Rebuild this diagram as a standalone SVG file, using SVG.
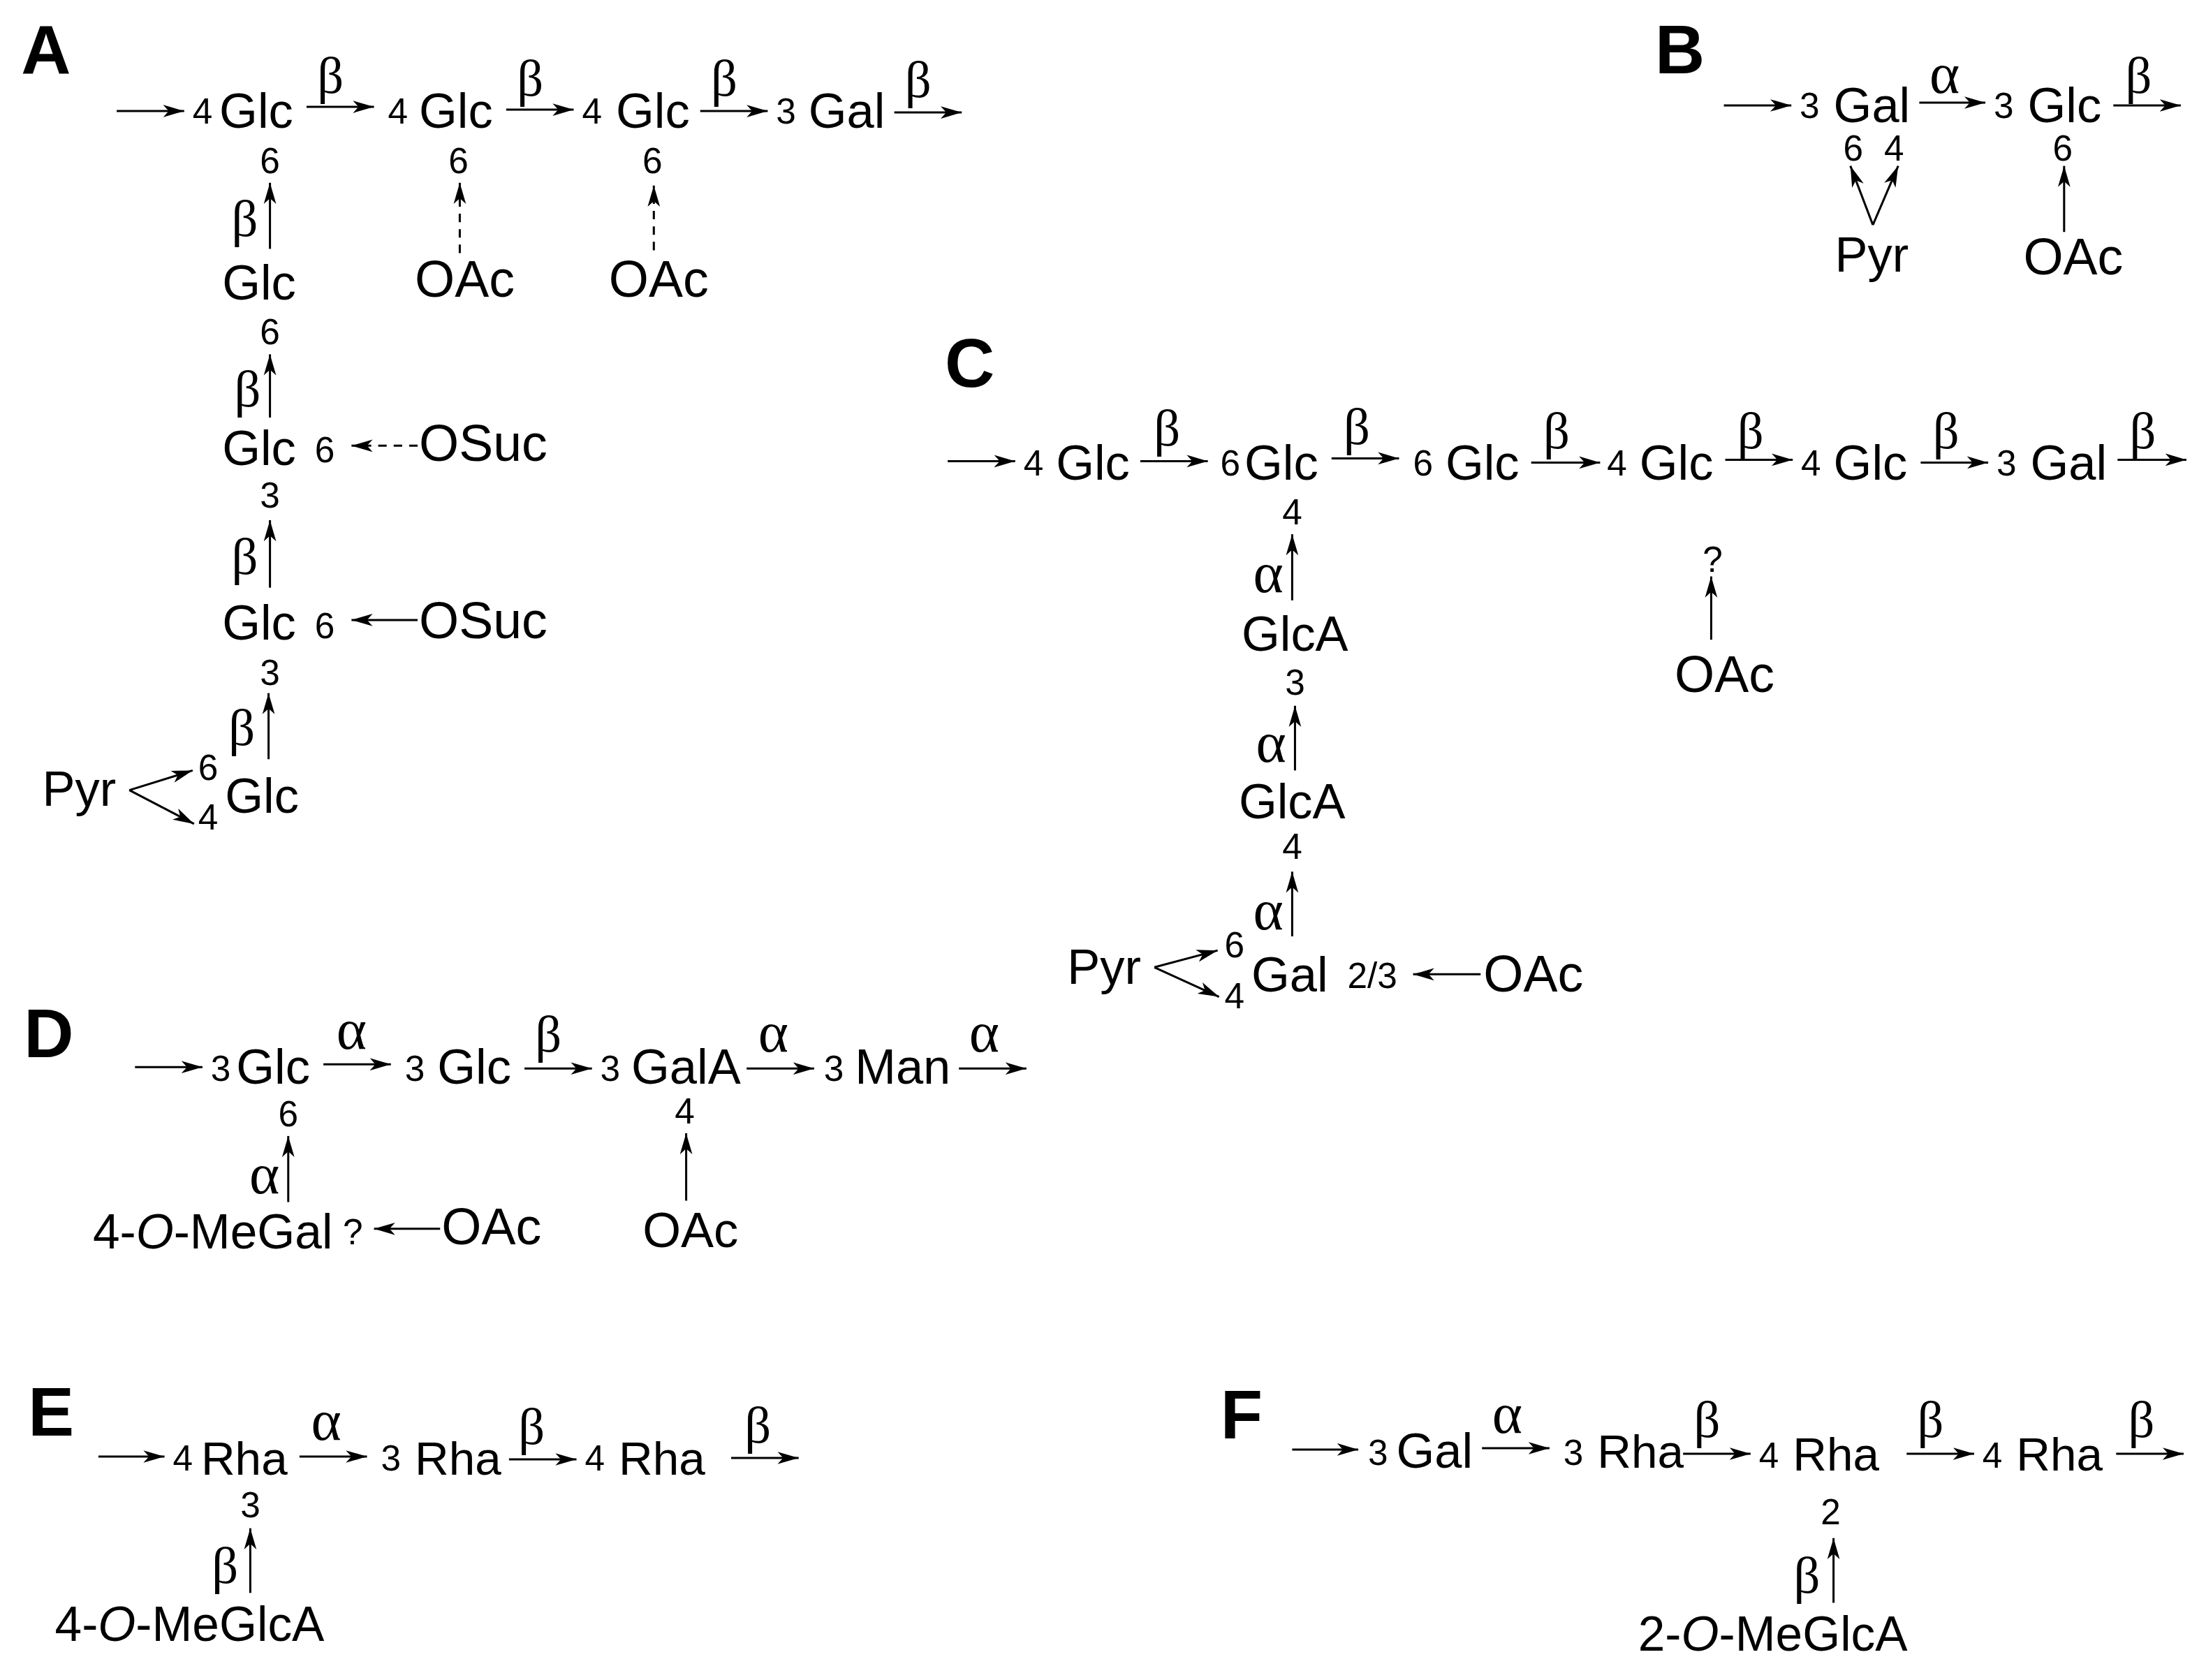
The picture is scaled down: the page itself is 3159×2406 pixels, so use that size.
<svg xmlns="http://www.w3.org/2000/svg" width="3159" height="2406" viewBox="0 0 3159 2406">
<style>
text{font-family:"Liberation Sans",Arial,sans-serif;fill:#000}
.t{font-size:35px}.o{font-size:36.5px}.n{font-size:25.5px;text-anchor:middle}
.m{font-size:34.5px}.r{font-size:33.5px}
.g{font-family:"Liberation Serif","Times New Roman",serif;font-size:37px;text-anchor:middle}
.a{font-size:41px}
.h{font-size:49px;font-weight:bold}
line{stroke:#000;stroke-width:1.5;marker-end:url(#a);fill:none}
.d{stroke-dasharray:6 5}
</style>
<defs><marker id="a" markerUnits="userSpaceOnUse" markerWidth="16" markerHeight="10" refX="15" refY="5" orient="auto"><path d="M0 .6L15 5L0 9.4L4 5z"/></marker></defs>
<rect width="3159" height="2406" fill="#fff"/>
<g transform="scale(2.0135)">
<g id="panel-letters">
<text class="h" x="15" y="52">A</text><text class="h" x="1177" y="52">B</text><text class="h" x="672" y="275">C</text><text class="h" x="17" y="752">D</text><text class="h" x="20" y="1021">E</text><text class="h" x="868" y="1023">F</text>
</g>
<g id="connectors">
<line x1="83" y1="79" x2="131" y2="79"/><line x1="218" y1="76" x2="266" y2="76"/><line x1="360" y1="78" x2="408" y2="78"/><line x1="498" y1="79" x2="546" y2="79"/><line x1="636" y1="80" x2="684" y2="80"/>
<line x1="192" y1="177" x2="192" y2="130"/><line class="d" x1="327" y1="180" x2="327" y2="130"/><line class="d" x1="465" y1="178" x2="465" y2="132"/>
<line x1="192" y1="297" x2="192" y2="252"/><line class="d" x1="297" y1="317" x2="250" y2="317"/><line x1="192" y1="418" x2="192" y2="370"/><line x1="297" y1="441" x2="250" y2="441"/><line x1="191" y1="540" x2="191" y2="493"/>
<line x1="92" y1="562" x2="137" y2="548"/><line x1="92" y1="562" x2="138" y2="586"/>
<line x1="1226" y1="75" x2="1274" y2="75"/><line x1="1365" y1="73" x2="1412" y2="73"/><line x1="1503" y1="75" x2="1551" y2="75"/>
<line x1="1332" y1="160" x2="1316" y2="118"/><line x1="1332" y1="160" x2="1350" y2="118"/><line x1="1468" y1="165" x2="1468" y2="118"/>
<line x1="674" y1="328" x2="722" y2="328"/><line x1="811" y1="328" x2="859" y2="328"/><line x1="947" y1="326" x2="995" y2="326"/><line x1="1089" y1="329" x2="1138" y2="329"/><line x1="1227" y1="327" x2="1275" y2="327"/><line x1="1366" y1="329" x2="1414" y2="329"/><line x1="1506" y1="327" x2="1555" y2="327"/>
<line x1="919" y1="427" x2="919" y2="380"/><line x1="921" y1="548" x2="921" y2="502"/><line x1="919" y1="666" x2="919" y2="620"/>
<line x1="821" y1="688" x2="866" y2="676"/><line x1="821" y1="688" x2="867" y2="709"/><line x1="1053" y1="693" x2="1005" y2="693"/><line x1="1217" y1="455" x2="1217" y2="410"/>
<line x1="96" y1="759" x2="144" y2="759"/><line x1="230" y1="757" x2="278" y2="757"/><line x1="373" y1="760" x2="421" y2="760"/><line x1="531" y1="760" x2="579" y2="760"/><line x1="682" y1="760" x2="730" y2="760"/>
<line x1="205" y1="855" x2="205" y2="808"/><line x1="313" y1="874" x2="266" y2="874"/><line x1="488" y1="854" x2="488" y2="806"/>
<line x1="70" y1="1036" x2="117" y2="1036"/><line x1="213" y1="1036" x2="261" y2="1036"/><line x1="362" y1="1038" x2="410" y2="1038"/><line x1="520" y1="1037" x2="568" y2="1037"/><line x1="178" y1="1133" x2="178" y2="1087"/>
<line x1="919" y1="1031" x2="966" y2="1031"/><line x1="1054" y1="1030" x2="1102" y2="1030"/><line x1="1197" y1="1034" x2="1245" y2="1034"/><line x1="1356" y1="1034" x2="1404" y2="1034"/><line x1="1505" y1="1034" x2="1553" y2="1034"/><line x1="1304" y1="1140" x2="1304" y2="1094"/>
</g>
<g id="linkage-labels">
<text class="g" x="235" y="66">β</text><text class="g" x="377" y="68">β</text><text class="g" x="515" y="68">β</text><text class="g" x="653" y="69">β</text>
<text class="g" x="174" y="168">β</text><text class="g" x="176" y="289">β</text><text class="g" x="174" y="408">β</text><text class="g" x="172" y="530">β</text>
<text class="g a" x="1383" y="66">α</text><text class="g" x="1521" y="66">β</text>
<text class="g" x="830" y="317">β</text><text class="g" x="965" y="316">β</text><text class="g" x="1107" y="319">β</text><text class="g" x="1245" y="319">β</text><text class="g" x="1384" y="319">β</text><text class="g" x="1524" y="319">β</text>
<text class="g a" x="902" y="421">α</text><text class="g a" x="904" y="542">α</text><text class="g a" x="902" y="661">α</text>
<text class="g a" x="250" y="746">α</text><text class="g" x="390" y="748">β</text><text class="g a" x="550" y="748">α</text><text class="g a" x="700" y="748">α</text><text class="g a" x="188" y="849">α</text>
<text class="g a" x="232" y="1024">α</text><text class="g" x="378" y="1027">β</text><text class="g" x="539" y="1026">β</text><text class="g" x="160" y="1126">β</text>
<text class="g a" x="1072" y="1019">α</text><text class="g" x="1214" y="1022">β</text><text class="g" x="1373" y="1022">β</text><text class="g" x="1523" y="1022">β</text><text class="g" x="1285" y="1133">β</text>
</g>
<g id="A-glc1"><text class="n" x="144" y="88">4</text><text class="t" x="156" y="91">Glc</text><text class="n" x="192" y="123">6</text></g>
<g id="A-glc2"><text class="n" x="283" y="88">4</text><text class="t" x="298" y="91">Glc</text><text class="n" x="326" y="123">6</text></g>
<g id="A-glc3"><text class="n" x="421" y="88">4</text><text class="t" x="438" y="91">Glc</text><text class="n" x="464" y="123">6</text></g>
<g id="A-gal"><text class="n" x="559" y="88">3</text><text class="t" x="575" y="91">Gal</text></g>
<g id="A-oac1"><text class="o" x="295" y="211">OAc</text></g>
<g id="A-oac2"><text class="o" x="433" y="211">OAc</text></g>
<g id="A-glc4"><text class="t" x="158" y="213">Glc</text><text class="n" x="192" y="245">6</text></g>
<g id="A-glc5"><text class="t" x="158" y="331">Glc</text><text class="n" x="231" y="329">6</text><text class="n" x="192" y="361">3</text></g>
<g id="A-osuc1"><text class="o" x="298" y="328">OSuc</text></g>
<g id="A-glc6"><text class="t" x="158" y="455">Glc</text><text class="n" x="231" y="454">6</text><text class="n" x="192" y="487">3</text></g>
<g id="A-osuc2"><text class="o" x="298" y="454">OSuc</text></g>
<g id="A-glc7"><text class="t" x="160" y="578">Glc</text><text class="n" x="148" y="555">6</text><text class="n" x="148" y="590">4</text></g>
<g id="A-pyr"><text class="t" x="30" y="573">Pyr</text></g>
<g id="B-gal"><text class="n" x="1287" y="84">3</text><text class="t" x="1304" y="87">Gal</text><text class="n" x="1318" y="114">6</text><text class="n" x="1347" y="114">4</text></g>
<g id="B-glc"><text class="n" x="1425" y="84">3</text><text class="t" x="1442" y="87">Glc</text><text class="n" x="1467" y="114">6</text></g>
<g id="B-pyr"><text class="t" x="1305" y="193">Pyr</text></g>
<g id="B-oac"><text class="o" x="1439" y="195">OAc</text></g>
<g id="C-glc1"><text class="n" x="735" y="338">4</text><text class="t" x="751" y="341">Glc</text></g>
<g id="C-glc2"><text class="n" x="875" y="338">6</text><text class="t" x="885" y="341">Glc</text><text class="n" x="919" y="373">4</text></g>
<g id="C-glc3"><text class="n" x="1012" y="338">6</text><text class="t" x="1028" y="341">Glc</text></g>
<g id="C-glc4"><text class="n" x="1150" y="338">4</text><text class="t" x="1166" y="341">Glc</text></g>
<g id="C-glc5"><text class="n" x="1288" y="338">4</text><text class="t" x="1304" y="341">Glc</text></g>
<g id="C-gal"><text class="n" x="1427" y="338">3</text><text class="t" x="1444" y="341">Gal</text></g>
<g id="C-glca1"><text class="t" x="883" y="463">GlcA</text><text class="n" x="921" y="494">3</text></g>
<g id="C-glca2"><text class="t" x="881" y="582">GlcA</text><text class="n" x="919" y="611">4</text></g>
<g id="C-gal2"><text class="t" x="890" y="705">Gal</text><text class="n" x="878" y="681">6</text><text class="n" x="878" y="717">4</text><text class="n" x="976" y="703">2/3</text></g>
<g id="C-pyr"><text class="t" x="759" y="700">Pyr</text></g>
<g id="C-oac1"><text class="o" x="1055" y="705">OAc</text></g>
<g id="C-q"><text class="n" x="1218" y="407">?</text></g>
<g id="C-oac2"><text class="o" x="1191" y="492">OAc</text></g>
<g id="D-glc1"><text class="n" x="157" y="769">3</text><text class="t" x="168" y="771">Glc</text><text class="n" x="205" y="801">6</text></g>
<g id="D-glc2"><text class="n" x="295" y="769">3</text><text class="t" x="311" y="771">Glc</text></g>
<g id="D-gala"><text class="n" x="434" y="769">3</text><text class="t" x="449" y="771">GalA</text><text class="n" x="487" y="799">4</text></g>
<g id="D-man"><text class="n" x="593" y="769">3</text><text class="t" x="608" y="771">Man</text></g>
<g id="D-megal"><text class="m" x="66" y="888">4-<tspan font-style="italic">O</tspan>-MeGal</text><text class="n" x="251" y="885">?</text></g>
<g id="D-oac1"><text class="o" x="314" y="885">OAc</text></g>
<g id="D-oac2"><text class="t" x="457" y="887">OAc</text></g>
<g id="E-rha1"><text class="n" x="130" y="1046">4</text><text class="r" x="143" y="1049">Rha</text><text class="n" x="178" y="1079">3</text></g>
<g id="E-rha2"><text class="n" x="278" y="1046">3</text><text class="r" x="295" y="1049">Rha</text></g>
<g id="E-rha3"><text class="n" x="423" y="1046">4</text><text class="r" x="440" y="1049">Rha</text></g>
<g id="E-meglca"><text class="m" x="39" y="1167">4-<tspan font-style="italic">O</tspan>-MeGlcA</text></g>
<g id="F-gal"><text class="n" x="980" y="1042">3</text><text class="t" x="993" y="1044">Gal</text></g>
<g id="F-rha1"><text class="n" x="1119" y="1042">3</text><text class="r" x="1136" y="1044">Rha</text></g>
<g id="F-rha2"><text class="n" x="1258" y="1044">4</text><text class="r" x="1275" y="1046">Rha</text><text class="n" x="1302" y="1084">2</text></g>
<g id="F-rha3"><text class="n" x="1417" y="1044">4</text><text class="r" x="1434" y="1046">Rha</text></g>
<g id="F-meglca"><text class="m" x="1165" y="1174">2-<tspan font-style="italic">O</tspan>-MeGlcA</text></g>
</g>
</svg>
